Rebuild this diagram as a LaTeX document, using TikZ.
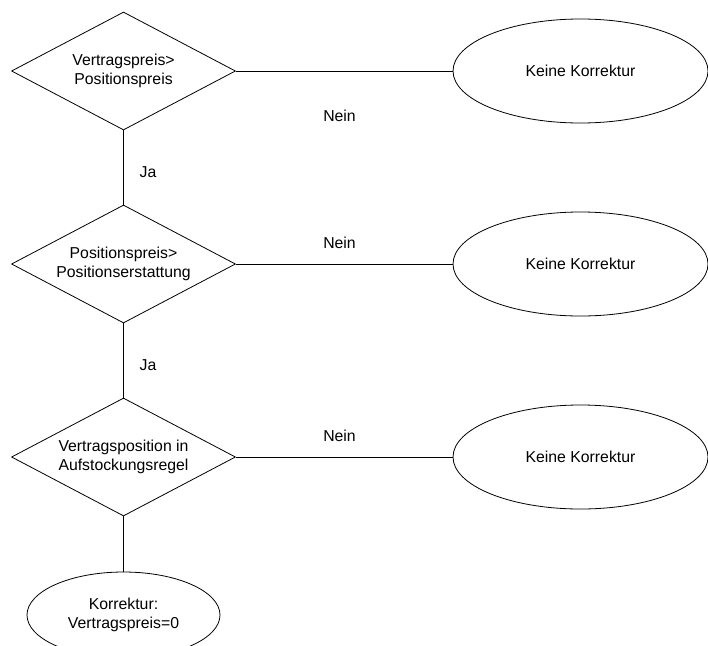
\documentclass[tikz,border=0pt]{standalone}
\usepackage{fontspec}
\setmainfont{Liberation Sans}
\usetikzlibrary{shapes.geometric}

\tikzset{
    entscheidung/.style={draw, diamond, aspect=1.9, inner sep=0pt, minimum width=224pt, minimum height=118pt, align=center},
    ergebnis/.style={draw, ellipse, inner sep=0pt, align=center},
    beschriftung/.style={inner sep=0pt}
}

\begin{document}
\begin{tikzpicture}[x=1pt, y=-1pt, line width=0.8pt, font=\fontsize{15.8}{19}\selectfont]

    \useasboundingbox (0, 0) rectangle (708, 645);

    %Entscheidungen
    \node[entscheidung] (e1) at (123.5, 71) {Vertragspreis>\\Positionspreis};
    \node[entscheidung] (e2) at (123.5, 264) {Positionspreis>\\Positionserstattung};
    \node[entscheidung] (e3) at (123.5, 457) {Vertragsposition in\\Aufstockungsregel};

    %Ergebnisse
    \node[ergebnis, minimum width=255pt, minimum height=104pt] (k1) at (580.5, 71) {Keine Korrektur};
    \node[ergebnis, minimum width=255pt, minimum height=104pt] (k2) at (580.5, 264) {Keine Korrektur};
    \node[ergebnis, minimum width=255pt, minimum height=104pt] (k3) at (580.5, 457) {Keine Korrektur};
    \node[ergebnis, minimum width=193pt, minimum height=86pt] (k4) at (123.5, 615) {Korrektur:\\Vertragspreis=0};

    \draw (e1) -- (k1);
    \draw (e2) -- (k2);
    \draw (e3) -- (k3);
    \draw (e1) -- (e2);
    \draw (e2) -- (e3);
    \draw (e3) -- (k4);

    \node[beschriftung] (n1) at (339.5, 116) {Nein};
    \node[beschriftung] (n2) at (339.5, 243) {Nein};
    \node[beschriftung] (n3) at (339.5, 436) {Nein};
    \node[beschriftung] (j1) at (148, 172) {Ja};
    \node[beschriftung] (j2) at (148, 365) {Ja};

\end{tikzpicture}
\end{document}
